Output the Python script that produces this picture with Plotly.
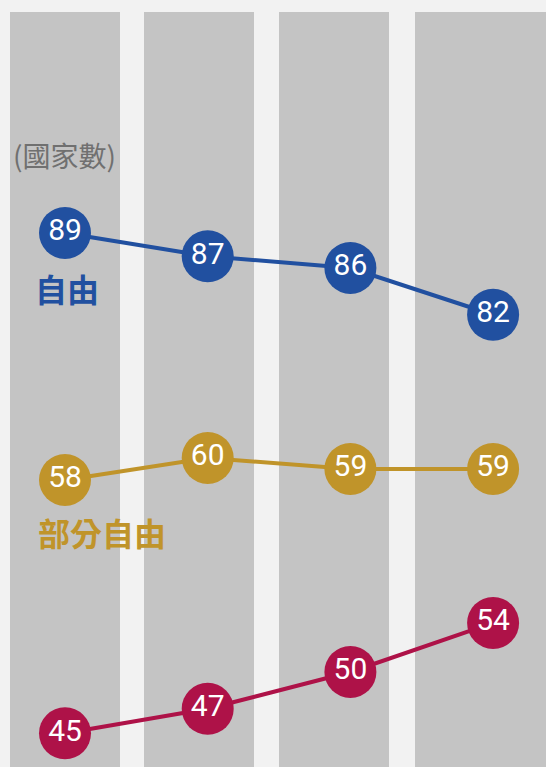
import plotly.graph_objects as go

periods = [0, 1, 2, 3]
free = [89, 87, 86, 82]
partly_free = [58, 60, 59, 59]
not_free = [45, 47, 50, 54]
series_names = ["自由", "部分自由", "不自由"]
unit_label = "(國家數)"

W, H = 546, 767
BG = "#f2f2f2"
COL = "#c4c4c4"
BLUE = "#2150a0"
GOLD = "#c0942a"
RED = "#ae1248"

num_font = "Roboto, sans-serif"
cjk_font = "Noto Sans CJK TC, Noto Sans CJK SC, sans-serif"

fig = go.Figure()

def add_series(y, color, axis, name):
    fig.add_trace(go.Scatter(
        x=periods, y=y, yaxis=axis, name=name,
        mode="lines+markers+text",
        line=dict(color=color, width=4),
        marker=dict(size=52, color=color, line=dict(width=0)),
        text=[str(v) for v in y],
        textposition="middle center",
        textfont=dict(family=num_font, size=30, color="white"),
        hoverinfo="skip", showlegend=False, cliponaxis=False,
    ))

add_series(free, BLUE, "y", series_names[0])
add_series(partly_free, GOLD, "y2", series_names[1])
add_series(not_free, RED, "y3", series_names[2])

# background columns
cols_px = [(10, 120), (144, 254), (279, 389), (415, 560)]
shapes = []
for x0, x1 in cols_px:
    shapes.append(dict(type="rect", xref="paper", yref="paper",
                       x0=x0 / W, x1=x1 / W, y0=-0.01, y1=1 - 12 / H,
                       fillcolor=COL, line=dict(width=0), layer="below"))

annotations = [
    dict(text=unit_label, xref="paper", yref="paper", x=11 / W, y=1 - 155 / H,
         xanchor="left", yanchor="middle", showarrow=False,
         font=dict(family=cjk_font, size=28, color="#707070")),
    dict(text="<b>" + series_names[0] + "</b>", xref="paper", yref="paper",
         x=67 / W, y=1 - 288 / H, xanchor="center", yanchor="middle", showarrow=False,
         font=dict(family=cjk_font, size=32, color=BLUE)),
    dict(text="<b>" + series_names[1] + "</b>", xref="paper", yref="paper",
         x=102 / W, y=1 - 532 / H, xanchor="center", yanchor="middle", showarrow=False,
         font=dict(family=cjk_font, size=32, color=GOLD)),
]

hidden = dict(visible=False, showgrid=False, zeroline=False, fixedrange=True)

fig.update_layout(
    width=W, height=H,
    margin=dict(l=0, r=0, t=0, b=0),
    paper_bgcolor=BG, plot_bgcolor="rgba(0,0,0,0)",
    shapes=shapes, annotations=annotations,
    xaxis=dict(range=[-0.4555, 3.3707], **hidden),
    yaxis=dict(range=[43.32, 108.92], **hidden),
    yaxis2=dict(range=[31.90, 101.63], overlaying="y", **hidden),
    yaxis3=dict(range=[42.25, 104.81], overlaying="y", **hidden),
)

fig.write_html("out.html", config={"displayModeBar": False})

with open("out.html", "r", encoding="utf-8") as fh:
    html = fh.read()
html = html.replace("<body>", '<body style="margin:0;padding:0;overflow:hidden;background:#f2f2f2">', 1)
with open("out.html", "w", encoding="utf-8") as fh:
    fh.write(html)
